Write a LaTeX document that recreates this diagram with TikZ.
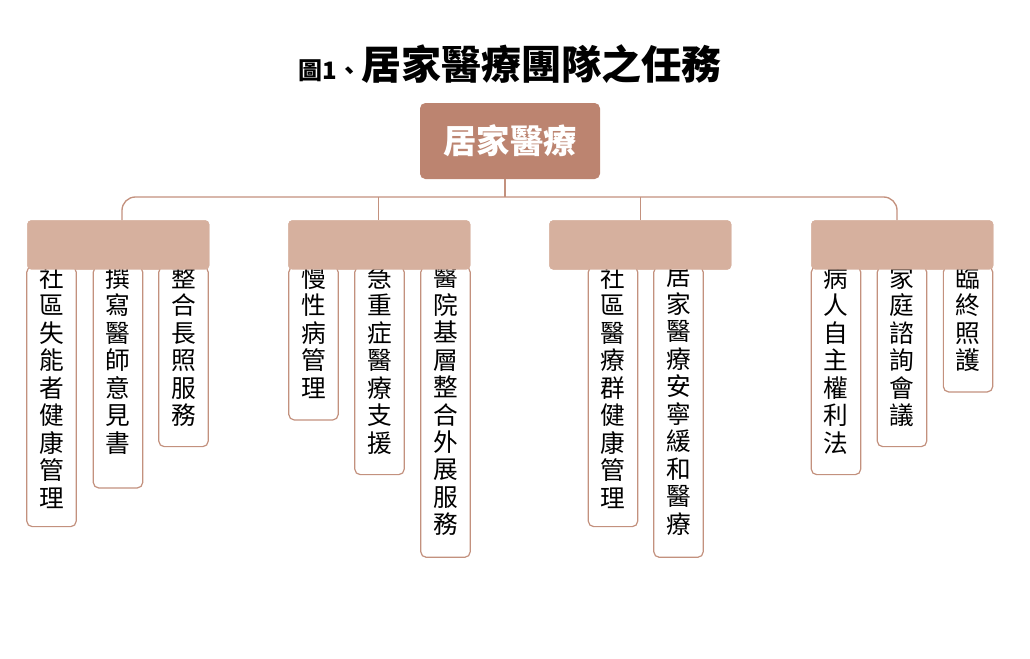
\documentclass[tikz,border=0pt]{standalone}
\usepackage{fontspec}
\setmainfont{Noto Sans CJK TC}
\definecolor{root}{HTML}{BC8470}
\definecolor{cat}{HTML}{D6B09E}
\definecolor{ln}{HTML}{C3917E}
\newcommand{\vtext}[2]{\begin{minipage}[t][#1][t]{22pt}\centering\fontsize{18.5}{20.6}\selectfont #2\end{minipage}}
\begin{document}
\begin{tikzpicture}[x=0.75pt,y=-0.75pt,
  rootbox/.style={fill=root,rounded corners=4pt,minimum width=135pt,minimum height=57pt,text=white,font=\fontsize{25}{28}\selectfont\bfseries},
  catbox/.style={fill=cat,rounded corners=3pt,minimum width=136.5pt,minimum height=37pt,font=\fontsize{21}{24}\selectfont\bfseries,anchor=north west},
  leaf/.style={draw=ln,line width=0.9pt,fill=white,rounded corners=4pt,anchor=north,inner sep=0pt,minimum width=37pt},
  conn/.style={ln,line width=1pt,rounded corners=10pt}]
\useasboundingbox (0,0) rectangle (1030,658);
\node (title) at (510,64) {\fontsize{18}{20}\selectfont\bfseries 圖1、\fontsize{30}{34}\selectfont 居家醫療團隊之任務};
\node[rootbox] (root) at (510,141) {居家醫療};
\coordinate (hub) at (505,197);
\coordinate (l) at (122,197);
\coordinate (r) at (897,197);
\node[catbox] (c1) at (27,220) {居家失能};
\node[catbox] (c2) at (288,220) {居家醫療};
\node[catbox] (c3) at (549,220) {機構照護};
\node[catbox] (c4) at (811,220) {安寧緩和};
\draw[conn] (root.south -| hub) -- (hub);
\draw[conn] (c1.north -| l) -- (l) -- (r) -- (c4.north -| r);
\draw[conn] (c2.north) ++(-0.5,0) -- ++(0,-23);
\draw[conn] (c3.north) ++(0,0) -- ++(0,-23);
% leaves: name, x center, bottom, chars
\newcommand{\leafnode}[5]{\node[leaf] (#1) at (#2,266) {\vtext{#4}{#5}};}
\leafnode{a1}{51.5}{531}{195pt}{社\\區\\失\\能\\者\\健\\康\\管\\理}
\leafnode{a2}{118}{493}{166pt}{撰\\寫\\醫\\師\\意\\見\\書}
\leafnode{a3}{183.5}{449}{135pt}{整\\合\\長\\照\\服\\務}
\leafnode{b1}{313.5}{422}{115pt}{慢\\性\\病\\管\\理}
\leafnode{b2}{379.5}{477}{156pt}{急\\重\\症\\醫\\療\\支\\援}
\leafnode{b3}{445.5}{559}{218pt}{醫\\院\\基\\層\\整\\合\\外\\展\\服\\務}
\leafnode{d1}{613}{531}{195pt}{社\\區\\醫\\療\\群\\健\\康\\管\\理}
\leafnode{d2}{678.5}{559}{218pt}{居\\家\\醫\\療\\安\\寧\\緩\\和\\醫\\療}
\leafnode{e1}{836}{477}{156pt}{病\\人\\自\\主\\權\\利\\法}
\leafnode{e2}{902}{449}{135pt}{家\\庭\\諮\\詢\\會\\議}
\leafnode{e3}{968}{394}{94pt}{臨\\終\\照\\護}
\foreach \n in {c1,c2,c3,c4} \node[catbox] at (\n.north west) {\pgfkeysvalueof{/dummy}};
\end{tikzpicture}
\end{document}
